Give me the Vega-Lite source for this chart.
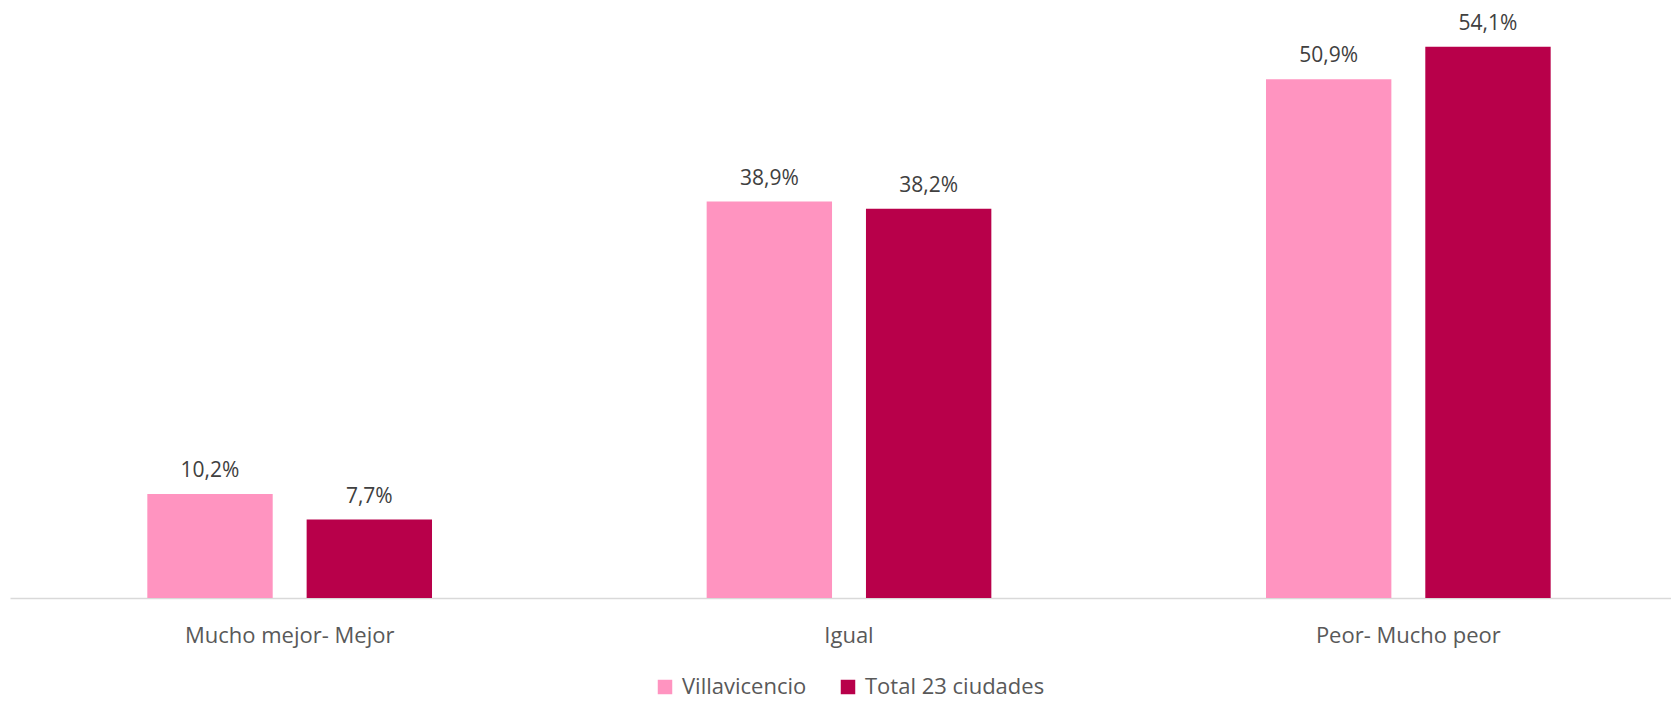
{
  "$schema": "https://vega.github.io/schema/vega-lite/v6.json",
  "width": 1678,
  "height": 591,
  "autosize": {"type": "none"},
  "padding": {"left": 10, "top": 7, "right": 0, "bottom": 104},
  "background": "white",
  "config": {
    "view": {"stroke": null},
    "font": "Open Sans",
    "legend": {"layout": {"bottom": {"anchor": "middle"}}},
    "locale": {"number": {"decimal": ",", "thousands": ".", "grouping": [3], "currency": ["", " €"]}}
  },
  "data": {
    "values": [
      {"categoria": "Mucho mejor- Mejor", "serie": "Villavicencio", "valor": 0.102},
      {"categoria": "Mucho mejor- Mejor", "serie": "Total 23 ciudades", "valor": 0.077},
      {"categoria": "Igual", "serie": "Villavicencio", "valor": 0.389},
      {"categoria": "Igual", "serie": "Total 23 ciudades", "valor": 0.382},
      {"categoria": "Peor- Mucho peor", "serie": "Villavicencio", "valor": 0.509},
      {"categoria": "Peor- Mucho peor", "serie": "Total 23 ciudades", "valor": 0.541}
    ]
  },
  "encoding": {
    "x": {
      "field": "categoria",
      "type": "nominal",
      "sort": ["Mucho mejor- Mejor", "Igual", "Peor- Mucho peor"],
      "scale": {"paddingInner": 0, "paddingOuter": 0},
      "axis": {
        "title": null,
        "labelAngle": 0,
        "labelFont": "Open Sans",
        "labelFontSize": 22,
        "labelColor": "#595959",
        "labelPadding": 27,
        "labelLimit": 0,
        "ticks": false,
        "domainColor": "#D9D9D9",
        "domainWidth": 1.5,
        "grid": false
      }
    },
    "xOffset": {
      "field": "serie",
      "type": "nominal",
      "sort": ["Villavicencio", "Total 23 ciudades"],
      "scale": {"paddingInner": 0.213, "paddingOuter": 0.862}
    },
    "y": {
      "field": "valor",
      "type": "quantitative",
      "scale": {"domain": [0, 0.58], "nice": false},
      "axis": null
    }
  },
  "layer": [
    {
      "mark": {"type": "bar"},
      "encoding": {
        "color": {
          "field": "serie",
          "type": "nominal",
          "scale": {"domain": ["Villavicencio", "Total 23 ciudades"], "range": ["#FF94C0", "#B8004A"]},
          "legend": {
            "title": null,
            "orient": "bottom",
            "direction": "horizontal",
            "symbolType": "square",
            "symbolSize": 210,
            "symbolStrokeWidth": 0,
            "labelFont": "Open Sans",
            "labelFontSize": 22,
            "labelColor": "#595959",
            "labelOffset": 6,
            "labelLimit": 0,
            "columnPadding": 30,
            "offset": 30
          }
        }
      }
    },
    {
      "mark": {"type": "text", "baseline": "alphabetic", "dy": -17, "fontSize": 21, "color": "#404040", "font": "Open Sans"},
      "encoding": {
        "text": {"field": "valor", "type": "quantitative", "format": ".1%"}
      }
    }
  ]
}
